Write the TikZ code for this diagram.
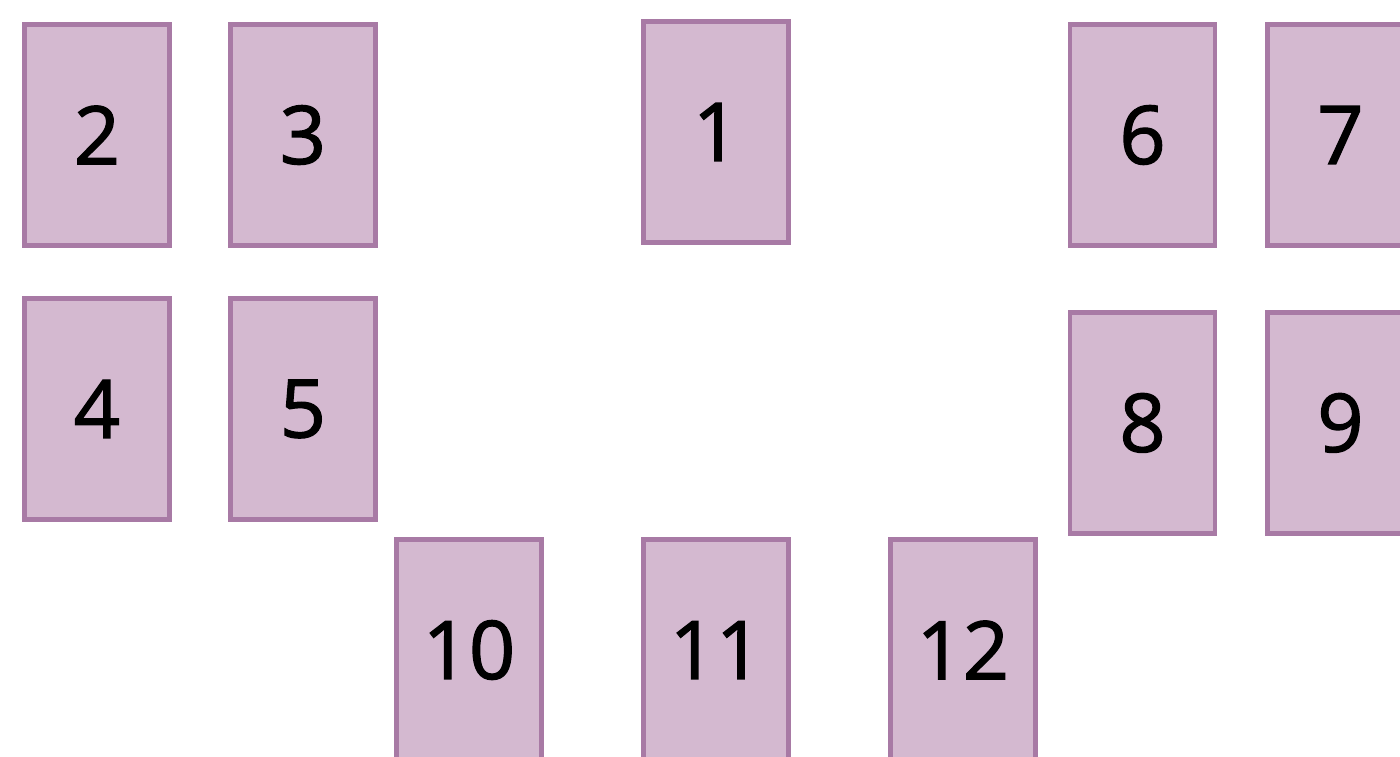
\documentclass[tikz,border=0pt]{standalone}
\usepackage{fontspec}
\setmainfont{Open Sans}
\newfontfamily\cardfont{Open Sans}[FakeBold=1.6]
\usetikzlibrary{positioning}
\definecolor{cardfill}{HTML}{D4B9D0}
\definecolor{cardline}{HTML}{A87AA5}
\tikzset{
  card/.style={rectangle,draw=cardline,fill=cardfill,line width=2.8pt,
               minimum width=2.9cm,minimum height=4.42cm,inner sep=0pt,
               font=\cardfont\fontsize{46}{52}\selectfont}
}
\begin{document}
\begin{tikzpicture}
  \useasboundingbox (0,0) rectangle (28,-15.12);
  \clip (0,0) rectangle (28,-15.12);

  \node (c1)  [card] at (14.32,-2.64)            {1};
  \node (c2)  [card] at (1.94,-2.70)             {2};
  \node (c3)  [card, right=1.12cm of c2]         {3};
  \node (c4)  [card, below=0.96cm of c2]         {4};
  \node (c5)  [card, right=1.12cm of c4]         {5};
  \node (c6)  [card] at (22.85,-2.70)            {6};
  \node (c7)  [card, right=0.96cm of c6]         {7};
  \node (c8)  [card, below=1.24cm of c6]         {8};
  \node (c9)  [card, right=0.96cm of c8]         {9};
  \node (c10) [card] at (9.38,-13.0)             {10};
  \node (c11) [card, right=1.94cm of c10]        {11};
  \node (c12) [card, right=1.94cm of c11]        {12};
\end{tikzpicture}
\end{document}
